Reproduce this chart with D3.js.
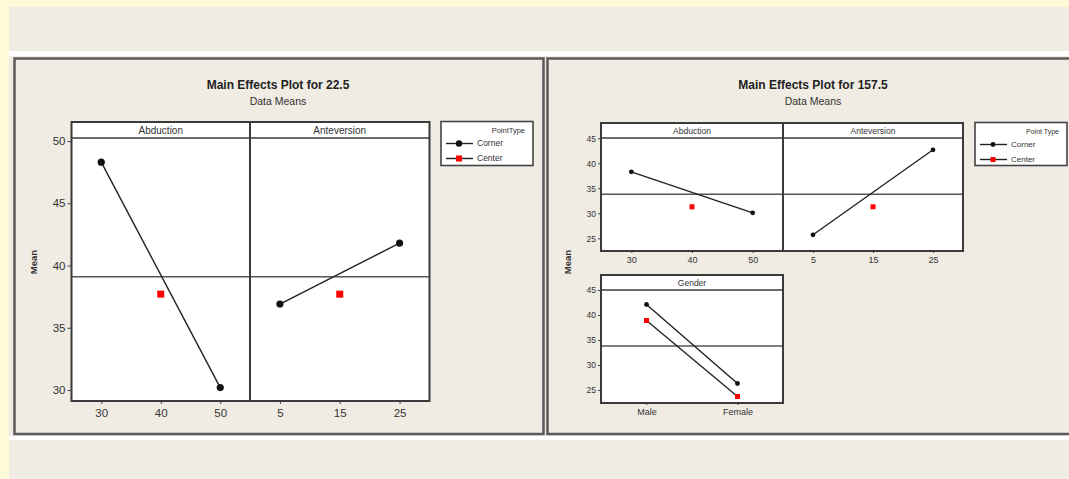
<!DOCTYPE html>
<html>
<head>
<meta charset="utf-8">
<script src="https://cdn.jsdelivr.net/npm/d3@7"></script>
<style>
  html, body { margin: 0; padding: 0; background: #fefad8; }
  svg { display: block; font-family: "Liberation Sans", Arial, sans-serif; }
</style>
</head>
<body>
<svg id="chart" width="1069" height="479"></svg>
<script>
// ---- data -------------------------------------------------------------
const abductionLevels   = [30, 40, 50];
const anteversionLevels = [5, 15, 25];
const genderLevels      = ["Male", "Female"];
const pointTypes        = ["Corner", "Center"];

// Main effects for response 22.5
const title22 = "Main Effects Plot for 22.5";
const mean22 = 39.1;
const abduction22Corner   = [48.3, null, 30.2];
const abduction22Center   = [null, 37.7, null];
const anteversion22Corner = [36.9, null, 41.8];
const anteversion22Center = [null, 37.7, null];

// Main effects for response 157.5
const title157 = "Main Effects Plot for 157.5";
const mean157 = 33.8;
const abduction157Corner   = [38.3, null, 30.1];
const abduction157Center   = [null, 31.3, null];
const anteversion157Corner = [25.7, null, 42.7];
const anteversion157Center = [null, 31.3, null];
const gender157Corner = [42.1, 26.3];
const gender157Center = [38.9, 23.7];

const ticks22  = [30, 35, 40, 45, 50];
const ticks157 = [25, 30, 35, 40, 45];

// ---- page chrome ------------------------------------------------------
const svg = d3.select("#chart");
const W = 1069, H = 479;
const beige = "#f0ece4";

svg.append("rect").attr("x", 9).attr("y", 7).attr("width", W - 9).attr("height", H - 7).attr("fill", beige);
svg.append("rect").attr("x", 9).attr("y", 51).attr("width", W - 9).attr("height", 5).attr("fill", "#ffffff");
svg.append("rect").attr("x", 9).attr("y", 436).attr("width", W - 9).attr("height", 4).attr("fill", "#ffffff");

// graph window borders
svg.append("rect").attr("x", 14.5).attr("y", 58.5).attr("width", 529).attr("height", 375.5)
  .attr("fill", beige).attr("stroke", "#5a5a5a").attr("stroke-width", 2.5);
svg.append("rect").attr("x", 547.5).attr("y", 58.5).attr("width", 540).attr("height", 375.5)
  .attr("fill", beige).attr("stroke", "#5a5a5a").attr("stroke-width", 2.5);

// ---- helpers ----------------------------------------------------------
const frameColor = "#3a3a3a";

function drawCell(opts) {
  const g = svg.append("g");
  const { x0, x1, top, stripBottom, bottom, xScale, yScale, label, mean,
          corner, center, levels, connectCenter, markerR, squareS, stripFont } = opts;

  g.append("rect").attr("x", x0).attr("y", top).attr("width", x1 - x0).attr("height", bottom - top)
    .attr("fill", "#ffffff");

  // reference line at overall mean
  g.append("line").attr("x1", x0).attr("x2", x1)
    .attr("y1", yScale(mean)).attr("y2", yScale(mean))
    .attr("stroke", "#555").attr("stroke-width", 1.6);

  // strip header
  g.append("line").attr("x1", x0).attr("x2", x1).attr("y1", stripBottom).attr("y2", stripBottom)
    .attr("stroke", frameColor).attr("stroke-width", 1.6);
  g.append("text").attr("x", (x0 + x1) / 2).attr("y", (top + stripBottom) / 2 + stripFont * 0.36)
    .attr("text-anchor", "middle").attr("font-size", stripFont).attr("fill", "#333")
    .text(label);

  const line = d3.line().defined(d => d.v != null).x(d => xScale(d.k)).y(d => yScale(d.v));
  const cornerPts = levels.map((k, i) => ({ k, v: corner[i] })).filter(d => d.v != null);
  const centerPts = levels.map((k, i) => ({ k, v: center[i] })).filter(d => d.v != null);

  g.append("path").datum(cornerPts).attr("d", line).attr("fill", "none")
    .attr("stroke", "#222").attr("stroke-width", 1.4);
  if (connectCenter) {
    g.append("path").datum(centerPts).attr("d", line).attr("fill", "none")
      .attr("stroke", "#222").attr("stroke-width", 1.4);
  }
  g.selectAll(".corner").data(cornerPts).join("circle")
    .attr("cx", d => xScale(d.k)).attr("cy", d => yScale(d.v)).attr("r", markerR).attr("fill", "#111");
  g.selectAll(".center").data(centerPts).join("rect")
    .attr("x", d => xScale(d.k) - squareS / 2).attr("y", d => yScale(d.v) - squareS / 2)
    .attr("width", squareS).attr("height", squareS).attr("fill", "#ff0000");

  return g;
}

function drawFrame(x0, x1, top, bottom, dividers) {
  const g = svg.append("g");
  g.append("rect").attr("x", x0).attr("y", top).attr("width", x1 - x0).attr("height", bottom - top)
    .attr("fill", "none").attr("stroke", frameColor).attr("stroke-width", 2);
  dividers.forEach(x => g.append("line").attr("x1", x).attr("x2", x).attr("y1", top).attr("y2", bottom)
    .attr("stroke", frameColor).attr("stroke-width", 2));
}

function styleAxis(sel, fontSize) {
  sel.select(".domain").remove();
  sel.selectAll(".tick line").attr("stroke", "#444");
  sel.selectAll(".tick text").attr("font-size", fontSize).attr("fill", "#333")
    .attr("font-family", "'Liberation Sans', Arial, sans-serif");
}

function drawLegend(x, y, w, h, fs, markerR, squareS) {
  const g = svg.append("g");
  g.append("rect").attr("x", x).attr("y", y).attr("width", w).attr("height", h)
    .attr("fill", "#ffffff").attr("stroke", "#444").attr("stroke-width", 1.6);
  g.append("text").attr("x", x + w - 8).attr("y", y + 11).attr("text-anchor", "end")
    .attr("font-size", fs - 1).attr("fill", "#333").text(x > 900 ? "Point Type" : "PointType");
  pointTypes.forEach((t, i) => {
    const cy = y + 22 + i * 15;
    g.append("line").attr("x1", x + 5).attr("x2", x + 32).attr("y1", cy).attr("y2", cy)
      .attr("stroke", "#222").attr("stroke-width", 1.4);
    if (i === 0) {
      g.append("circle").attr("cx", x + 18).attr("cy", cy).attr("r", markerR).attr("fill", "#111");
    } else {
      g.append("rect").attr("x", x + 18 - squareS / 2).attr("y", cy - squareS / 2)
        .attr("width", squareS).attr("height", squareS).attr("fill", "#ff0000");
    }
    g.append("text").attr("x", x + 36).attr("y", cy + fs * 0.35).attr("font-size", fs)
      .attr("fill", "#333").text(t);
  });
}

// ---- left graph: 22.5 -------------------------------------------------
{
  const top = 122, stripBottom = 138, bottom = 401;
  const xa = d3.scaleLinear().domain([25, 55]).range([71.5, 250]);
  const xb = d3.scaleLinear().domain([0, 30]).range([250, 429.5]);
  const y = d3.scaleLinear().domain([29.12, 50.24]).range([bottom, stripBottom]);

  drawCell({ x0: 71.5, x1: 250, top, stripBottom, bottom, xScale: xa, yScale: y, label: "Abduction",
    mean: mean22, corner: abduction22Corner, center: abduction22Center, levels: abductionLevels,
    markerR: 3.6, squareS: 7, stripFont: 10 });
  drawCell({ x0: 250, x1: 429.5, top, stripBottom, bottom, xScale: xb, yScale: y, label: "Anteversion",
    mean: mean22, corner: anteversion22Corner, center: anteversion22Center, levels: anteversionLevels,
    markerR: 3.6, squareS: 7, stripFont: 10 });
  drawFrame(71.5, 429.5, top, bottom, [250]);

  svg.append("g").attr("transform", "translate(71.5,0)")
    .call(d3.axisLeft(y).tickValues(ticks22).tickSize(4).tickPadding(2))
    .call(s => styleAxis(s, 11.5));
  svg.append("g").attr("transform", `translate(0,${bottom})`)
    .call(d3.axisBottom(xa).tickValues(abductionLevels).tickSize(3).tickPadding(5))
    .call(s => styleAxis(s, 11.5));
  svg.append("g").attr("transform", `translate(0,${bottom})`)
    .call(d3.axisBottom(xb).tickValues(anteversionLevels).tickSize(3).tickPadding(5))
    .call(s => styleAxis(s, 11.5));

  svg.append("text").attr("x", 278).attr("y", 89).attr("text-anchor", "middle")
    .attr("font-size", 12).attr("font-weight", "bold").attr("fill", "#222").text(title22);
  svg.append("text").attr("x", 278).attr("y", 105).attr("text-anchor", "middle")
    .attr("font-size", 10.5).attr("fill", "#333").text("Data Means");
  svg.append("text").attr("transform", "translate(37,262) rotate(-90)").attr("text-anchor", "middle")
    .attr("font-size", 9.5).attr("font-weight", "bold").attr("fill", "#333").text("Mean");

  drawLegend(441, 121.5, 92, 44, 8.5, 3.2, 6);
}

// ---- right graph: 157.5 -----------------------------------------------
{
  const top = 123, stripBottom = 138, bottom = 251;
  const xa = d3.scaleLinear().domain([25, 55]).range([601, 783]);
  const xb = d3.scaleLinear().domain([0, 30]).range([783, 963]);
  const y = d3.scaleLinear().domain([22.46, 45.06]).range([bottom, stripBottom]);

  drawCell({ x0: 601, x1: 783, top, stripBottom, bottom, xScale: xa, yScale: y, label: "Abduction",
    mean: mean157, corner: abduction157Corner, center: abduction157Center, levels: abductionLevels,
    markerR: 2.4, squareS: 5, stripFont: 8.5 });
  drawCell({ x0: 783, x1: 963, top, stripBottom, bottom, xScale: xb, yScale: y, label: "Anteversion",
    mean: mean157, corner: anteversion157Corner, center: anteversion157Center, levels: anteversionLevels,
    markerR: 2.4, squareS: 5, stripFont: 8.5 });
  drawFrame(601, 963, top, bottom, [783]);

  svg.append("g").attr("transform", "translate(601,0)")
    .call(d3.axisLeft(y).tickValues(ticks157).tickSize(3).tickPadding(2))
    .call(s => styleAxis(s, 8.5));
  svg.append("g").attr("transform", `translate(0,${bottom})`)
    .call(d3.axisBottom(xa).tickValues(abductionLevels).tickSize(2).tickPadding(4))
    .call(s => styleAxis(s, 9));
  svg.append("g").attr("transform", `translate(0,${bottom})`)
    .call(d3.axisBottom(xb).tickValues(anteversionLevels).tickSize(2).tickPadding(4))
    .call(s => styleAxis(s, 9));

  // gender row
  const gTop = 275, gStrip = 290, gBottom = 403;
  const xg = d3.scalePoint().domain(genderLevels).range([601, 783]).padding(0.5);
  const yg = d3.scaleLinear().domain([22.4, 45]).range([gBottom, gStrip]);
  drawCell({ x0: 601, x1: 783, top: gTop, stripBottom: gStrip, bottom: gBottom, xScale: xg, yScale: yg,
    label: "Gender", mean: mean157, corner: gender157Corner, center: gender157Center, levels: genderLevels,
    connectCenter: true, markerR: 2.4, squareS: 5, stripFont: 8.5 });
  drawFrame(601, 783, gTop, gBottom, []);
  svg.append("g").attr("transform", "translate(601,0)")
    .call(d3.axisLeft(yg).tickValues(ticks157).tickSize(3).tickPadding(2))
    .call(s => styleAxis(s, 8.5));
  svg.append("g").attr("transform", `translate(0,${gBottom})`)
    .call(d3.axisBottom(xg).tickSize(2).tickPadding(4))
    .call(s => styleAxis(s, 9));

  svg.append("text").attr("x", 813).attr("y", 89).attr("text-anchor", "middle")
    .attr("font-size", 12).attr("font-weight", "bold").attr("fill", "#222").text(title157);
  svg.append("text").attr("x", 813).attr("y", 105).attr("text-anchor", "middle")
    .attr("font-size", 10.5).attr("fill", "#333").text("Data Means");
  svg.append("text").attr("transform", "translate(571,262) rotate(-90)").attr("text-anchor", "middle")
    .attr("font-size", 9.5).attr("font-weight", "bold").attr("fill", "#333").text("Mean");

  drawLegend(975, 122.5, 92, 43, 8, 2.4, 5);
}
</script>
</body>
</html>
